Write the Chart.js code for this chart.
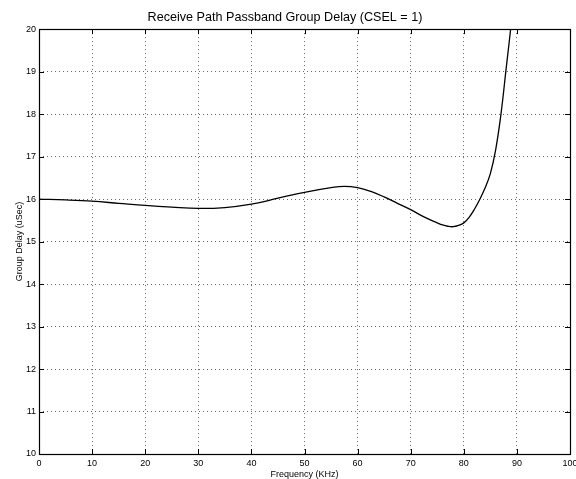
<!DOCTYPE html>
<html>
<head>
<meta charset="utf-8">
<script src="https://cdn.jsdelivr.net/npm/chart.js@4"></script>
<style>
    html, body { margin: 0; padding: 0; background: #fff; }
    #wrap { width: 576px; height: 479px; }
</style>
</head>
<body>
<div id="wrap"><canvas id="chart"></canvas></div>
<script>
const freqKHz = [0, 5, 10, 15, 20, 25, 30, 35, 40, 45, 50, 55, 57.5, 60, 62.5, 65, 67.5, 70, 72.5, 75, 76, 77, 78, 79, 80, 81, 82, 83, 84, 85, 86, 87, 88, 89, 90];
const groupDelay = [16.00, 15.98, 15.95, 15.90, 15.85, 15.81, 15.78, 15.80, 15.88, 16.02, 16.16, 16.27, 16.30, 16.27, 16.18, 16.05, 15.90, 15.75, 15.58, 15.44, 15.39, 15.36, 15.35, 15.38, 15.44, 15.57, 15.76, 15.99, 16.26, 16.60, 17.16, 18.00, 19.10, 20.20, 21.40];

const xTicks = [0, 10, 20, 30, 40, 50, 60, 70, 80, 90, 100];
const yTicks = [10, 11, 12, 13, 14, 15, 16, 17, 18, 19, 20];

const FONT = "'Liberation Sans', Arial, Helvetica, sans-serif";

// matlab style frame with inward ticks on all four sides
const framePlugin = {
    id: "frame",
    afterDatasetsDraw(chart) {
        const { ctx, chartArea: a, scales } = chart;
        const len = 5;
        ctx.save();
        ctx.strokeStyle = "#000";
        ctx.lineWidth = 1;
        ctx.beginPath();
        xTicks.forEach((v) => {
            const px = Math.round(scales.x.getPixelForValue(v)) + 0.5;
            ctx.moveTo(px, a.bottom);
            ctx.lineTo(px, a.bottom - len);
            ctx.moveTo(px, a.top);
            ctx.lineTo(px, a.top + len);
        });
        yTicks.forEach((v) => {
            const py = Math.round(scales.y.getPixelForValue(v)) + 0.5;
            ctx.moveTo(a.left, py);
            ctx.lineTo(a.left + len, py);
            ctx.moveTo(a.right, py);
            ctx.lineTo(a.right - len, py);
        });
        ctx.stroke();
        ctx.lineWidth = 1.2;
        ctx.strokeRect(Math.round(a.left) + 0.5, Math.round(a.top) + 0.5,
            Math.round(a.right - a.left), Math.round(a.bottom - a.top));
        ctx.restore();
    }
};

new Chart(document.getElementById("chart"), {
    type: "line",
    data: {
        datasets: [{
            data: freqKHz.map((f, i) => ({ x: f, y: groupDelay[i] })),
            borderColor: "#000",
            borderWidth: 1.3,
            pointRadius: 0,
            tension: 0.4,
            fill: false
        }]
    },
    options: {
        responsive: true,
        maintainAspectRatio: false,
        animation: false,
        layout: { padding: { left: 0, right: 6, top: 0, bottom: 0 } },
        plugins: {
            legend: { display: false },
            tooltip: { enabled: false },
            title: {
                display: true,
                text: "Receive Path Passband Group Delay (CSEL = 1)",
                color: "#000",
                font: { family: FONT, size: 12.6, weight: "normal", lineHeight: 1.2 },
                padding: { top: 10, bottom: 4 }
            }
        },
        scales: {
            x: {
                type: "linear",
                min: 0,
                max: 100,
                afterFit(scale) {
                    scale.height = 25;
                    scale.paddingLeft = 0;
                    scale.paddingRight = 0;
                },
                afterBuildTicks(scale) {
                    scale.ticks = xTicks.map((v) => ({ value: v }));
                },
                ticks: {
                    color: "#000",
                    font: { family: FONT, size: 9 },
                    padding: 4,
                    maxRotation: 0,
                    autoSkip: false
                },
                grid: { color: "rgba(0,0,0,0.6)", lineWidth: 1, drawTicks: false },
                border: { display: false, dash: [1, 3] },
                title: {
                    display: true,
                    text: "Frequency (KHz)",
                    color: "#000",
                    font: { family: FONT, size: 9, lineHeight: 1 },
                    padding: 0
                }
            },
            y: {
                type: "linear",
                min: 10,
                max: 20,
                afterFit(scale) {
                    scale.width = 39;
                },
                afterBuildTicks(scale) {
                    scale.ticks = yTicks.map((v) => ({ value: v }));
                },
                ticks: {
                    color: "#000",
                    font: { family: FONT, size: 9 },
                    padding: 3
                },
                grid: { color: "rgba(0,0,0,0.6)", lineWidth: 1, drawTicks: false },
                border: { display: false, dash: [1, 3] },
                title: {
                    display: true,
                    text: "Group Delay (uSec)",
                    color: "#000",
                    font: { family: FONT, size: 9, lineHeight: 1.2 },
                    padding: { top: 14, bottom: 0 }
                }
            }
        }
    },
    plugins: [framePlugin]
});
</script>
</body>
</html>
